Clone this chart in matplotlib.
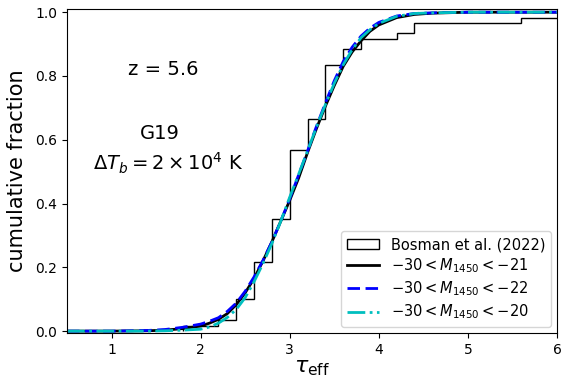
import numpy as np
import matplotlib.pyplot as plt

# Bosman et al. (2022) tau_eff counts, 0.2 wide bins from 1.8 to 7.0
bosman_edges = np.linspace(1.8, 7.0, 27)
bosman_counts = [1, 0, 1, 4, 7, 8, 13, 6, 10, 3, 2, 0, 1, 2, 0, 0, 0, 0, 0, 1, 0, 0, 0, 1, 0, 0]

# model CDFs
tau_m21 = [0.5, 1.0, 1.4, 1.6, 1.8, 2.0, 2.1, 2.2, 2.3, 2.4, 2.5, 2.6, 2.7, 2.8, 2.9, 3.0,
           3.1, 3.2, 3.3, 3.4, 3.5, 3.6, 3.7, 3.8, 3.9, 4.0, 4.2, 4.4, 4.6, 5.0, 6.0]
cdf_m21 = [0.0, 0.0, 0.001, 0.003, 0.008, 0.016, 0.025, 0.037, 0.055, 0.083, 0.12, 0.165,
           0.22, 0.28, 0.345, 0.41, 0.48, 0.56, 0.635, 0.705, 0.77, 0.83, 0.875, 0.91,
           0.94, 0.96, 0.983, 0.993, 0.997, 1.0, 1.0]

tau_m22 = [0.5, 1.0, 1.4, 1.6, 1.8, 2.0, 2.1, 2.2, 2.3, 2.4, 2.5, 2.6, 2.7, 2.8, 2.9, 3.0,
           3.1, 3.2, 3.3, 3.4, 3.5, 3.6, 3.7, 3.8, 3.9, 4.0, 4.2, 4.4, 4.6, 5.0, 6.0]
cdf_m22 = [0.0, 0.0, 0.002, 0.005, 0.012, 0.022, 0.031, 0.042, 0.062, 0.088, 0.125, 0.17,
           0.222, 0.28, 0.345, 0.415, 0.49, 0.565, 0.642, 0.715, 0.785, 0.845, 0.89, 0.925,
           0.95, 0.968, 0.988, 0.996, 0.998, 1.0, 1.0]

tau_m20 = [0.5, 1.0, 1.4, 1.6, 1.8, 2.0, 2.1, 2.2, 2.3, 2.4, 2.5, 2.6, 2.7, 2.8, 2.9, 3.0,
           3.1, 3.2, 3.3, 3.4, 3.5, 3.6, 3.7, 3.8, 3.9, 4.0, 4.2, 4.4, 4.6, 5.0, 6.0]
cdf_m20 = [0.0, 0.0, 0.0, 0.001, 0.003, 0.006, 0.013, 0.025, 0.043, 0.068, 0.105, 0.155,
           0.212, 0.275, 0.345, 0.42, 0.492, 0.565, 0.64, 0.71, 0.777, 0.835, 0.882, 0.92,
           0.945, 0.965, 0.987, 0.996, 0.998, 1.0, 1.0]

fig = plt.figure(figsize=(5.61, 3.85), dpi=100)
ax = fig.add_axes([0.1194, 0.135, 0.8735, 0.8416])

n_tot = sum(bosman_counts)
bin_mid = bosman_edges[:-1] + 0.1  # bin centres
ax.hist(bin_mid, bins=bosman_edges, weights=np.array(bosman_counts) / n_tot,
        cumulative=True, histtype='step', color='k', lw=1, label='Bosman et al. (2022)')
ax.plot(tau_m21, cdf_m21, color='k', lw=2, label=r'$-30 < M_{1450} < -21$')
ax.plot(tau_m22, cdf_m22, color='b', lw=2, ls=(0, (4.5, 2)), label=r'$-30 < M_{1450} < -22$')
ax.plot(tau_m20, cdf_m20, color='c', lw=2, ls='-.', label=r'$-30 < M_{1450} < -20$')

ax.text(1.58, 0.82, 'z = 5.6', fontsize=14, ha='center', va='center')
ax.text(1.54, 0.62, 'G19', fontsize=14, ha='center', va='center')
ax.text(1.63, 0.525, r'$\Delta T_b = 2\times10^4$ K', fontsize=14, ha='center', va='center')

ax.set_xlim(0.5, 6)
ax.set_ylim(-0.006, 1.01)
ax.tick_params(labelsize=10)
ax.set_xlabel(r'$\tau_{\rm eff}$', fontsize=16, labelpad=1)
ax.set_ylabel('cumulative fraction', fontsize=15, labelpad=6)
ax.legend(loc='lower right', fontsize=10.5, borderaxespad=0.4,
          labelspacing=0.3, handlelength=2.2)

fig.savefig('out.png', dpi=100)
